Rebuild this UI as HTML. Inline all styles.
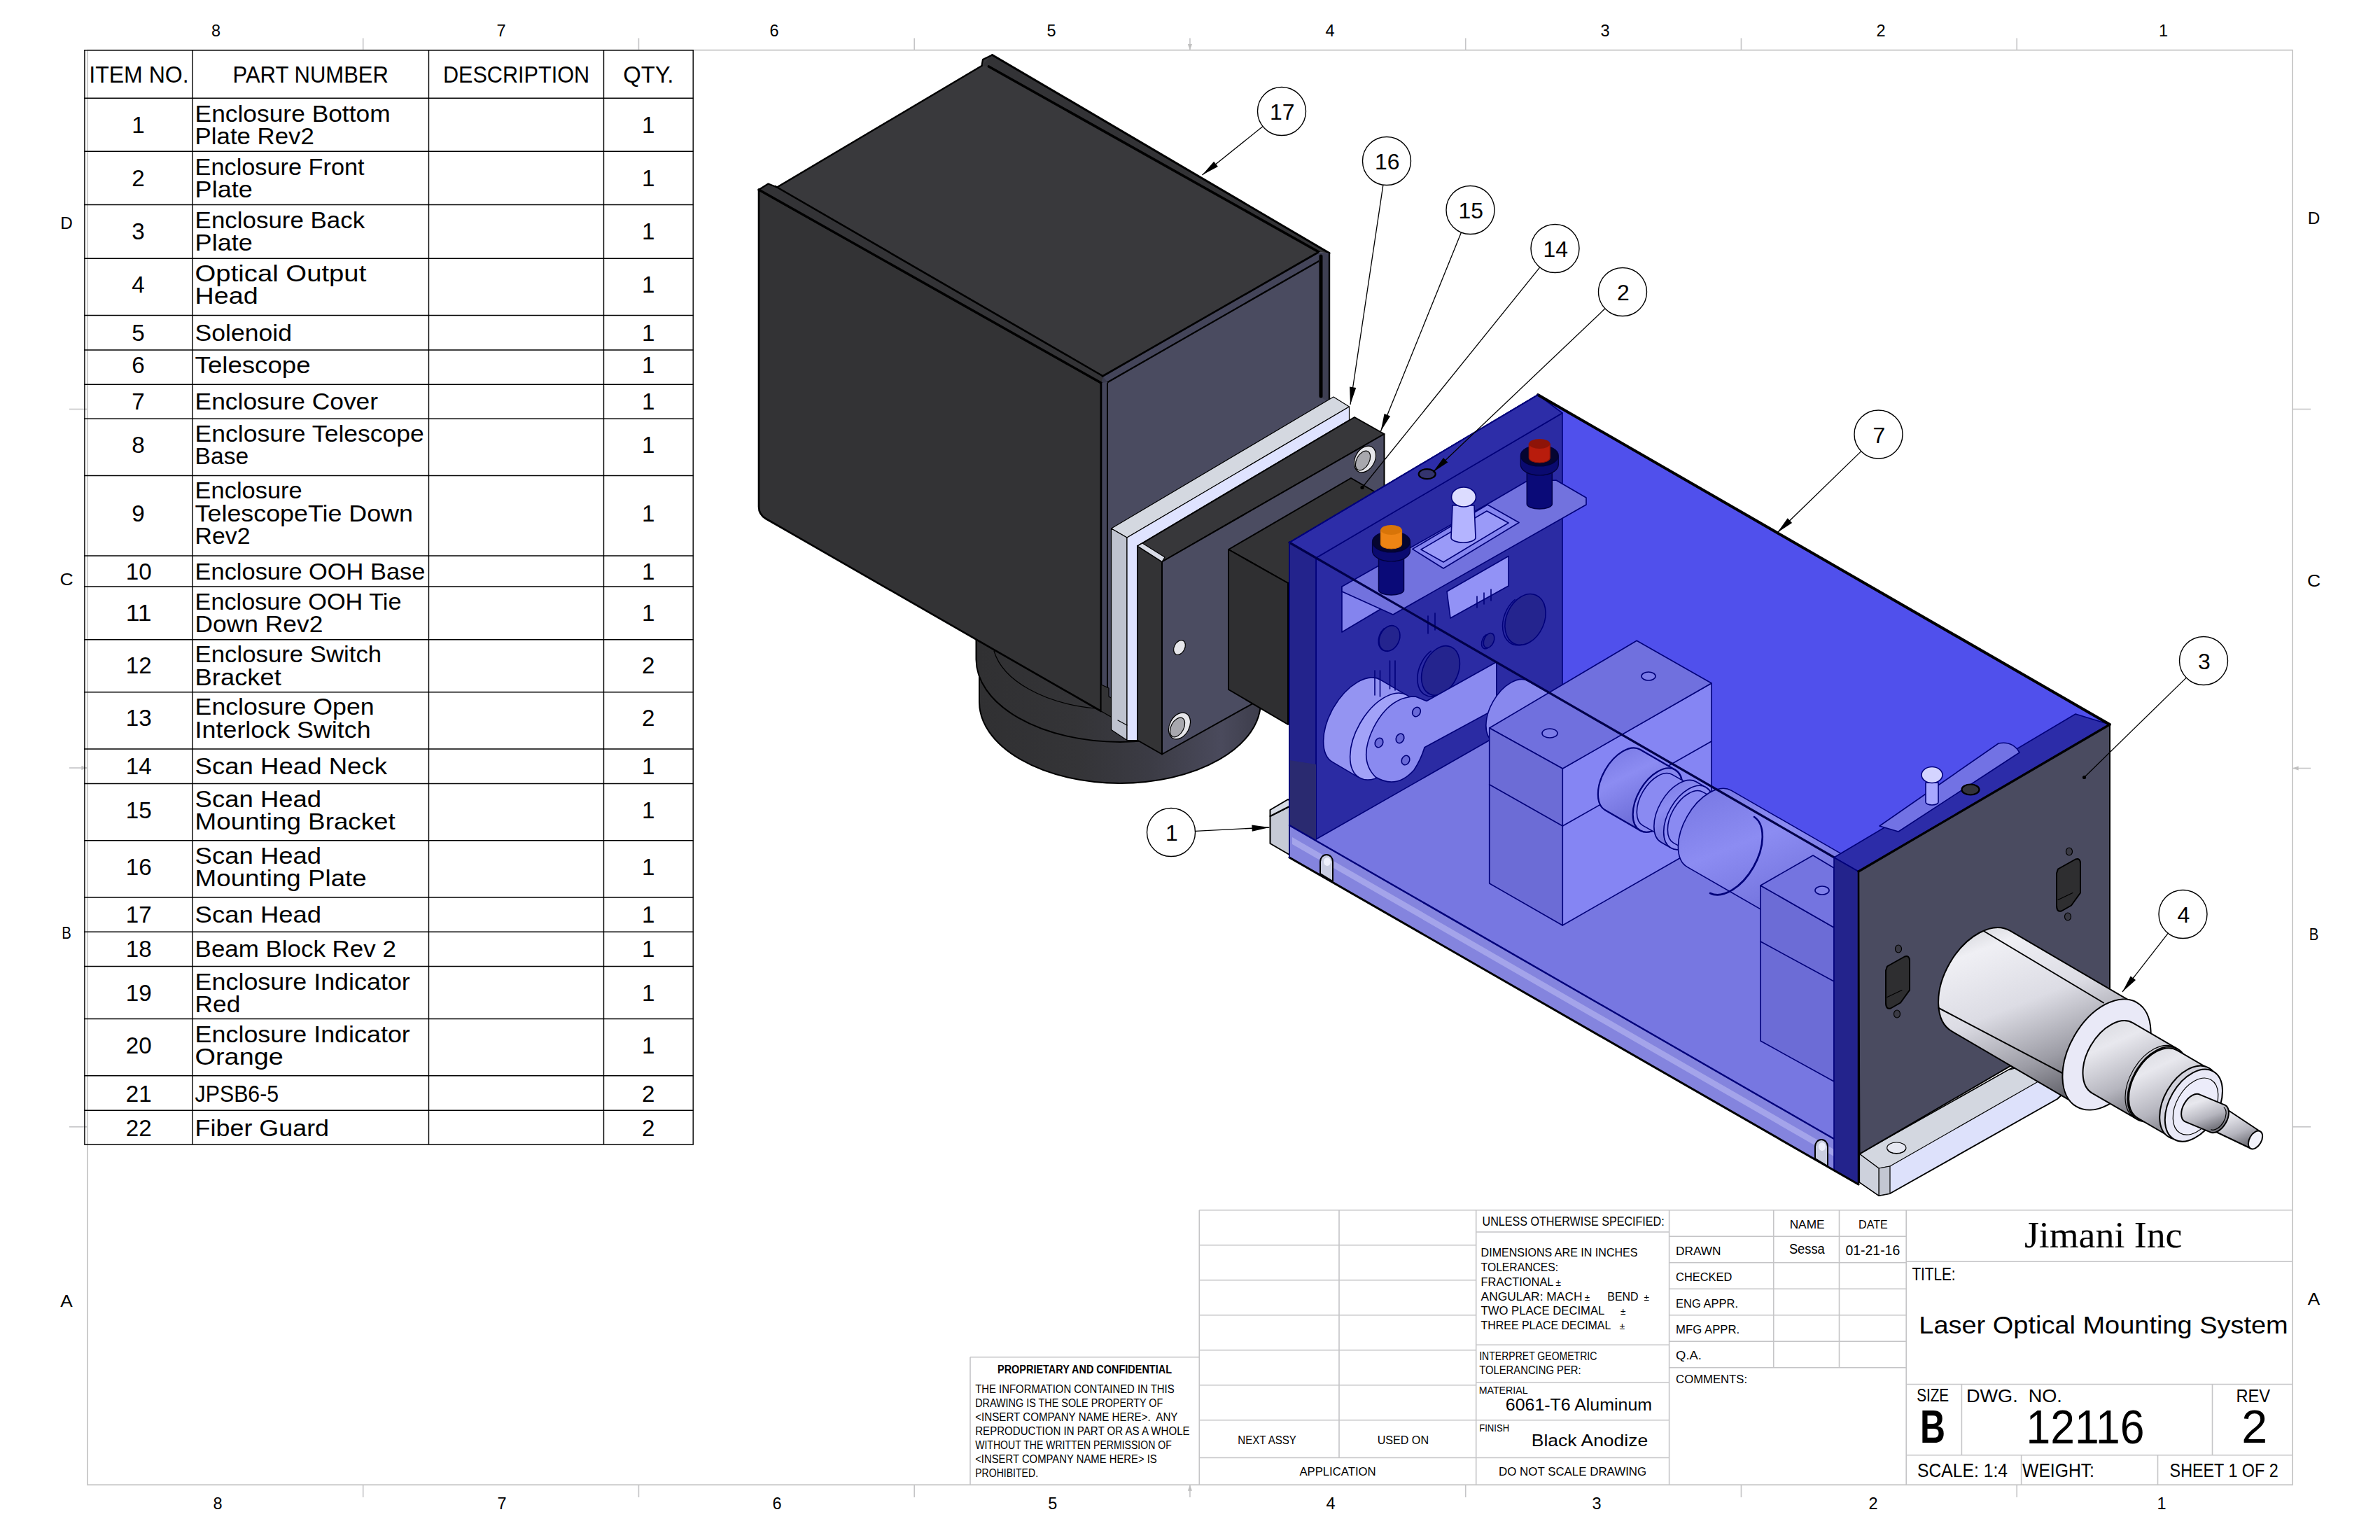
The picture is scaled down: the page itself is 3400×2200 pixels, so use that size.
<!DOCTYPE html>
<html lang="en"><head><meta charset="utf-8"><title>Laser Optical Mounting System - 12116</title>
<style>
html,body{margin:0;padding:0;background:#fff;}
body{width:3400px;height:2200px;overflow:hidden;position:relative;}
svg{position:absolute;left:0;top:0;display:block;}
text{font-family:"Liberation Sans",sans-serif;fill:#000;white-space:pre;}
.g{stroke:#c5c5c7;stroke-width:1.6;fill:none;}
.k{stroke:#000;stroke-width:1.4;fill:none;}
.e{stroke:#000;stroke-width:2;stroke-linejoin:round;stroke-linecap:round;}
.e1{stroke:#000;stroke-width:1.2;stroke-linejoin:round;stroke-linecap:round;}
.b{stroke:#00007a;stroke-width:1.6;stroke-linejoin:round;stroke-linecap:round;}
.ld{stroke:#000;stroke-width:1.3;fill:none;}
</style></head>
<body>
<svg width="3400" height="2200" viewBox="0 0 3400 2200">
<g id="frame">
<rect class="g" x="125.0" y="71.6" width="3150.0" height="2049.6" style="stroke-width:1.7;stroke:#c4c4c4"/>
<line class="g" x1="518.70" y1="54.50" x2="518.70" y2="71.60"/>
<line class="g" x1="518.70" y1="2121.20" x2="518.70" y2="2139.00"/>
<line class="g" x1="912.45" y1="54.50" x2="912.45" y2="71.60"/>
<line class="g" x1="912.45" y1="2121.20" x2="912.45" y2="2139.00"/>
<line class="g" x1="1306.20" y1="54.50" x2="1306.20" y2="71.60"/>
<line class="g" x1="1306.20" y1="2121.20" x2="1306.20" y2="2139.00"/>
<line class="g" x1="1699.95" y1="54.50" x2="1699.95" y2="71.60"/>
<line class="g" x1="1699.95" y1="2121.20" x2="1699.95" y2="2139.00"/>
<line class="g" x1="2093.70" y1="54.50" x2="2093.70" y2="71.60"/>
<line class="g" x1="2093.70" y1="2121.20" x2="2093.70" y2="2139.00"/>
<line class="g" x1="2487.45" y1="54.50" x2="2487.45" y2="71.60"/>
<line class="g" x1="2487.45" y1="2121.20" x2="2487.45" y2="2139.00"/>
<line class="g" x1="2881.20" y1="54.50" x2="2881.20" y2="71.60"/>
<line class="g" x1="2881.20" y1="2121.20" x2="2881.20" y2="2139.00"/>
<line class="g" x1="99.00" y1="584.50" x2="125.00" y2="584.50"/>
<line class="g" x1="3275.00" y1="584.50" x2="3301.00" y2="584.50"/>
<line class="g" x1="99.00" y1="1609.80" x2="125.00" y2="1609.80"/>
<line class="g" x1="3275.00" y1="1609.80" x2="3301.00" y2="1609.80"/>
<line class="g" x1="99.00" y1="1097.00" x2="125.00" y2="1097.00"/>
<line class="g" x1="3275.00" y1="1097.50" x2="3301.00" y2="1097.50"/>
<path d="M125 1097 l-8.6 -3.1 v6.2z M3275 1097.5 l8.6 -3.1 v6.2z M1699.9 71.6 l-3.1 -8.6 h6.2z M1699.9 2121.2 l-3.1 8.6 h6.2z" fill="#c0c0c0"/>
<text x="308.50" y="51.80" font-size="23.60" text-anchor="middle" textLength="13.07" lengthAdjust="spacingAndGlyphs">8</text>
<text x="716.00" y="51.80" font-size="23.60" text-anchor="middle" textLength="13.07" lengthAdjust="spacingAndGlyphs">7</text>
<text x="1106.00" y="51.80" font-size="23.60" text-anchor="middle" textLength="13.07" lengthAdjust="spacingAndGlyphs">6</text>
<text x="1502.00" y="51.80" font-size="23.60" text-anchor="middle" textLength="13.07" lengthAdjust="spacingAndGlyphs">5</text>
<text x="1900.00" y="51.80" font-size="23.60" text-anchor="middle" textLength="13.07" lengthAdjust="spacingAndGlyphs">4</text>
<text x="2293.00" y="51.80" font-size="23.60" text-anchor="middle" textLength="13.07" lengthAdjust="spacingAndGlyphs">3</text>
<text x="2687.00" y="51.80" font-size="23.60" text-anchor="middle" textLength="13.07" lengthAdjust="spacingAndGlyphs">2</text>
<text x="3090.50" y="51.80" font-size="23.60" text-anchor="middle" textLength="13.07" lengthAdjust="spacingAndGlyphs">1</text>
<text x="311.00" y="2155.50" font-size="23.60" text-anchor="middle" textLength="13.07" lengthAdjust="spacingAndGlyphs">8</text>
<text x="717.00" y="2155.50" font-size="23.60" text-anchor="middle" textLength="13.07" lengthAdjust="spacingAndGlyphs">7</text>
<text x="1110.00" y="2155.50" font-size="23.60" text-anchor="middle" textLength="13.07" lengthAdjust="spacingAndGlyphs">6</text>
<text x="1503.70" y="2155.50" font-size="23.60" text-anchor="middle" textLength="13.07" lengthAdjust="spacingAndGlyphs">5</text>
<text x="1901.00" y="2155.50" font-size="23.60" text-anchor="middle" textLength="13.07" lengthAdjust="spacingAndGlyphs">4</text>
<text x="2281.00" y="2155.50" font-size="23.60" text-anchor="middle" textLength="13.07" lengthAdjust="spacingAndGlyphs">3</text>
<text x="2676.00" y="2155.50" font-size="23.60" text-anchor="middle" textLength="13.07" lengthAdjust="spacingAndGlyphs">2</text>
<text x="3088.00" y="2155.50" font-size="23.60" text-anchor="middle" textLength="13.07" lengthAdjust="spacingAndGlyphs">1</text>
<text x="95.00" y="327.00" font-size="23.60" text-anchor="middle" textLength="17.56" lengthAdjust="spacingAndGlyphs">D</text>
<text x="3305.50" y="319.50" font-size="23.60" text-anchor="middle" textLength="17.56" lengthAdjust="spacingAndGlyphs">D</text>
<text x="95.00" y="836.00" font-size="23.60" text-anchor="middle" textLength="19.19" lengthAdjust="spacingAndGlyphs">C</text>
<text x="3305.50" y="837.50" font-size="23.60" text-anchor="middle" textLength="19.19" lengthAdjust="spacingAndGlyphs">C</text>
<text x="95.00" y="1341.00" font-size="23.60" text-anchor="middle" textLength="13.55" lengthAdjust="spacingAndGlyphs">B</text>
<text x="3305.50" y="1342.50" font-size="23.60" text-anchor="middle" textLength="13.55" lengthAdjust="spacingAndGlyphs">B</text>
<text x="95.00" y="1866.50" font-size="23.60" text-anchor="middle" textLength="17.46" lengthAdjust="spacingAndGlyphs">A</text>
<text x="3305.50" y="1864.30" font-size="23.60" text-anchor="middle" textLength="17.46" lengthAdjust="spacingAndGlyphs">A</text>
</g>
<g id="bom">
<line class="k" x1="120.20" y1="71.75" x2="990.90" y2="71.75"/>
<line class="k" x1="120.20" y1="140.25" x2="990.90" y2="140.25"/>
<line class="k" x1="120.20" y1="216.25" x2="990.90" y2="216.25"/>
<line class="k" x1="120.20" y1="292.50" x2="990.90" y2="292.50"/>
<line class="k" x1="120.20" y1="369.25" x2="990.90" y2="369.25"/>
<line class="k" x1="120.20" y1="450.50" x2="990.90" y2="450.50"/>
<line class="k" x1="120.20" y1="500.00" x2="990.90" y2="500.00"/>
<line class="k" x1="120.20" y1="549.25" x2="990.90" y2="549.25"/>
<line class="k" x1="120.20" y1="598.25" x2="990.90" y2="598.25"/>
<line class="k" x1="120.20" y1="679.50" x2="990.90" y2="679.50"/>
<line class="k" x1="120.20" y1="794.00" x2="990.90" y2="794.00"/>
<line class="k" x1="120.20" y1="838.00" x2="990.90" y2="838.00"/>
<line class="k" x1="120.20" y1="913.75" x2="990.90" y2="913.75"/>
<line class="k" x1="120.20" y1="988.75" x2="990.90" y2="988.75"/>
<line class="k" x1="120.20" y1="1070.00" x2="990.90" y2="1070.00"/>
<line class="k" x1="120.20" y1="1119.50" x2="990.90" y2="1119.50"/>
<line class="k" x1="120.20" y1="1200.75" x2="990.90" y2="1200.75"/>
<line class="k" x1="120.20" y1="1282.00" x2="990.90" y2="1282.00"/>
<line class="k" x1="120.20" y1="1331.25" x2="990.90" y2="1331.25"/>
<line class="k" x1="120.20" y1="1380.50" x2="990.90" y2="1380.50"/>
<line class="k" x1="120.20" y1="1455.50" x2="990.90" y2="1455.50"/>
<line class="k" x1="120.20" y1="1536.75" x2="990.90" y2="1536.75"/>
<line class="k" x1="120.20" y1="1586.25" x2="990.90" y2="1586.25"/>
<line class="k" x1="120.20" y1="1635.00" x2="990.90" y2="1635.00"/>
<line class="k" x1="120.90" y1="71.75" x2="120.90" y2="1635.00"/>
<line class="k" x1="275.00" y1="71.75" x2="275.00" y2="1635.00"/>
<line class="k" x1="612.50" y1="71.75" x2="612.50" y2="1635.00"/>
<line class="k" x1="862.50" y1="71.75" x2="862.50" y2="1635.00"/>
<line class="k" x1="990.20" y1="71.75" x2="990.20" y2="1635.00"/>
<text x="198.45" y="118.30" font-size="33.33" text-anchor="middle" textLength="142.32" lengthAdjust="spacingAndGlyphs">ITEM NO.</text>
<text x="443.75" y="118.30" font-size="33.33" text-anchor="middle" textLength="222.41" lengthAdjust="spacingAndGlyphs">PART NUMBER</text>
<text x="737.50" y="118.30" font-size="33.33" text-anchor="middle" textLength="209.21" lengthAdjust="spacingAndGlyphs">DESCRIPTION</text>
<text x="926.35" y="118.30" font-size="33.33" text-anchor="middle" textLength="72.19" lengthAdjust="spacingAndGlyphs">QTY.</text>
<text x="278.60" y="173.75" font-size="33.33" textLength="279.04" lengthAdjust="spacingAndGlyphs">Enclosure Bottom</text>
<text x="278.60" y="205.90" font-size="33.33" textLength="170.18" lengthAdjust="spacingAndGlyphs">Plate Rev2</text>
<text x="197.60" y="189.82" font-size="33.33" text-anchor="middle" textLength="18.46" lengthAdjust="spacingAndGlyphs">1</text>
<text x="926.20" y="189.82" font-size="33.33" text-anchor="middle" textLength="18.46" lengthAdjust="spacingAndGlyphs">1</text>
<text x="278.60" y="249.85" font-size="33.33" textLength="242.04" lengthAdjust="spacingAndGlyphs">Enclosure Front</text>
<text x="278.60" y="282.00" font-size="33.33" textLength="82.13" lengthAdjust="spacingAndGlyphs">Plate</text>
<text x="197.60" y="265.93" font-size="33.33" text-anchor="middle" textLength="18.46" lengthAdjust="spacingAndGlyphs">2</text>
<text x="926.20" y="265.93" font-size="33.33" text-anchor="middle" textLength="18.46" lengthAdjust="spacingAndGlyphs">1</text>
<text x="278.60" y="326.10" font-size="33.33" textLength="242.58" lengthAdjust="spacingAndGlyphs">Enclosure Back</text>
<text x="278.60" y="358.25" font-size="33.33" textLength="82.13" lengthAdjust="spacingAndGlyphs">Plate</text>
<text x="197.60" y="342.18" font-size="33.33" text-anchor="middle" textLength="18.46" lengthAdjust="spacingAndGlyphs">3</text>
<text x="926.20" y="342.18" font-size="33.33" text-anchor="middle" textLength="18.46" lengthAdjust="spacingAndGlyphs">1</text>
<text x="278.60" y="402.15" font-size="33.33" textLength="244.71" lengthAdjust="spacingAndGlyphs">Optical Output</text>
<text x="278.60" y="434.30" font-size="33.33" textLength="90.02" lengthAdjust="spacingAndGlyphs">Head</text>
<text x="197.60" y="418.22" font-size="33.33" text-anchor="middle" textLength="18.46" lengthAdjust="spacingAndGlyphs">4</text>
<text x="926.20" y="418.22" font-size="33.33" text-anchor="middle" textLength="18.46" lengthAdjust="spacingAndGlyphs">1</text>
<text x="278.60" y="487.00" font-size="33.33" textLength="138.42" lengthAdjust="spacingAndGlyphs">Solenoid</text>
<text x="197.60" y="487.00" font-size="33.33" text-anchor="middle" textLength="18.46" lengthAdjust="spacingAndGlyphs">5</text>
<text x="926.20" y="487.00" font-size="33.33" text-anchor="middle" textLength="18.46" lengthAdjust="spacingAndGlyphs">1</text>
<text x="278.60" y="532.50" font-size="33.33" textLength="164.92" lengthAdjust="spacingAndGlyphs">Telescope</text>
<text x="197.60" y="532.50" font-size="33.33" text-anchor="middle" textLength="18.46" lengthAdjust="spacingAndGlyphs">6</text>
<text x="926.20" y="532.50" font-size="33.33" text-anchor="middle" textLength="18.46" lengthAdjust="spacingAndGlyphs">1</text>
<text x="278.60" y="585.00" font-size="33.33" textLength="261.47" lengthAdjust="spacingAndGlyphs">Enclosure Cover</text>
<text x="197.60" y="585.00" font-size="33.33" text-anchor="middle" textLength="18.46" lengthAdjust="spacingAndGlyphs">7</text>
<text x="926.20" y="585.00" font-size="33.33" text-anchor="middle" textLength="18.46" lengthAdjust="spacingAndGlyphs">1</text>
<text x="278.60" y="630.85" font-size="33.33" textLength="327.30" lengthAdjust="spacingAndGlyphs">Enclosure Telescope</text>
<text x="278.60" y="663.00" font-size="33.33" textLength="76.49" lengthAdjust="spacingAndGlyphs">Base</text>
<text x="197.60" y="646.93" font-size="33.33" text-anchor="middle" textLength="18.46" lengthAdjust="spacingAndGlyphs">8</text>
<text x="926.20" y="646.93" font-size="33.33" text-anchor="middle" textLength="18.46" lengthAdjust="spacingAndGlyphs">1</text>
<text x="278.60" y="712.40" font-size="33.33" textLength="153.15" lengthAdjust="spacingAndGlyphs">Enclosure</text>
<text x="278.60" y="744.55" font-size="33.33" textLength="311.34" lengthAdjust="spacingAndGlyphs">TelescopeTie Down</text>
<text x="278.60" y="776.70" font-size="33.33" textLength="78.83" lengthAdjust="spacingAndGlyphs">Rev2</text>
<text x="197.60" y="744.55" font-size="33.33" text-anchor="middle" textLength="18.46" lengthAdjust="spacingAndGlyphs">9</text>
<text x="926.20" y="744.55" font-size="33.33" text-anchor="middle" textLength="18.46" lengthAdjust="spacingAndGlyphs">1</text>
<text x="278.60" y="827.50" font-size="33.33" textLength="328.80" lengthAdjust="spacingAndGlyphs">Enclosure OOH Base</text>
<text x="198.20" y="827.50" font-size="33.33" text-anchor="middle" textLength="36.93" lengthAdjust="spacingAndGlyphs">10</text>
<text x="926.20" y="827.50" font-size="33.33" text-anchor="middle" textLength="18.46" lengthAdjust="spacingAndGlyphs">1</text>
<text x="278.60" y="871.20" font-size="33.33" textLength="294.84" lengthAdjust="spacingAndGlyphs">Enclosure OOH Tie</text>
<text x="278.60" y="903.35" font-size="33.33" textLength="182.72" lengthAdjust="spacingAndGlyphs">Down Rev2</text>
<text x="198.20" y="887.28" font-size="33.33" text-anchor="middle" textLength="36.93" lengthAdjust="spacingAndGlyphs">11</text>
<text x="926.20" y="887.28" font-size="33.33" text-anchor="middle" textLength="18.46" lengthAdjust="spacingAndGlyphs">1</text>
<text x="278.60" y="946.35" font-size="33.33" textLength="266.54" lengthAdjust="spacingAndGlyphs">Enclosure Switch</text>
<text x="278.60" y="978.50" font-size="33.33" textLength="123.19" lengthAdjust="spacingAndGlyphs">Bracket</text>
<text x="198.20" y="962.43" font-size="33.33" text-anchor="middle" textLength="36.93" lengthAdjust="spacingAndGlyphs">12</text>
<text x="926.20" y="962.43" font-size="33.33" text-anchor="middle" textLength="18.46" lengthAdjust="spacingAndGlyphs">2</text>
<text x="278.60" y="1021.35" font-size="33.33" textLength="256.07" lengthAdjust="spacingAndGlyphs">Enclosure Open</text>
<text x="278.60" y="1053.50" font-size="33.33" textLength="251.04" lengthAdjust="spacingAndGlyphs">Interlock Switch</text>
<text x="198.20" y="1037.42" font-size="33.33" text-anchor="middle" textLength="36.93" lengthAdjust="spacingAndGlyphs">13</text>
<text x="926.20" y="1037.42" font-size="33.33" text-anchor="middle" textLength="18.46" lengthAdjust="spacingAndGlyphs">2</text>
<text x="278.60" y="1106.25" font-size="33.33" textLength="274.37" lengthAdjust="spacingAndGlyphs">Scan Head Neck</text>
<text x="198.20" y="1106.25" font-size="33.33" text-anchor="middle" textLength="36.93" lengthAdjust="spacingAndGlyphs">14</text>
<text x="926.20" y="1106.25" font-size="33.33" text-anchor="middle" textLength="18.46" lengthAdjust="spacingAndGlyphs">1</text>
<text x="278.60" y="1152.50" font-size="33.33" textLength="180.52" lengthAdjust="spacingAndGlyphs">Scan Head</text>
<text x="278.60" y="1184.65" font-size="33.33" textLength="286.20" lengthAdjust="spacingAndGlyphs">Mounting Bracket</text>
<text x="198.20" y="1168.58" font-size="33.33" text-anchor="middle" textLength="36.93" lengthAdjust="spacingAndGlyphs">15</text>
<text x="926.20" y="1168.58" font-size="33.33" text-anchor="middle" textLength="18.46" lengthAdjust="spacingAndGlyphs">1</text>
<text x="278.60" y="1233.75" font-size="33.33" textLength="180.52" lengthAdjust="spacingAndGlyphs">Scan Head</text>
<text x="278.60" y="1265.90" font-size="33.33" textLength="245.14" lengthAdjust="spacingAndGlyphs">Mounting Plate</text>
<text x="198.20" y="1249.83" font-size="33.33" text-anchor="middle" textLength="36.93" lengthAdjust="spacingAndGlyphs">16</text>
<text x="926.20" y="1249.83" font-size="33.33" text-anchor="middle" textLength="18.46" lengthAdjust="spacingAndGlyphs">1</text>
<text x="278.60" y="1318.25" font-size="33.33" textLength="180.52" lengthAdjust="spacingAndGlyphs">Scan Head</text>
<text x="198.20" y="1318.25" font-size="33.33" text-anchor="middle" textLength="36.93" lengthAdjust="spacingAndGlyphs">17</text>
<text x="926.20" y="1318.25" font-size="33.33" text-anchor="middle" textLength="18.46" lengthAdjust="spacingAndGlyphs">1</text>
<text x="278.60" y="1367.00" font-size="33.33" textLength="287.27" lengthAdjust="spacingAndGlyphs">Beam Block Rev 2</text>
<text x="198.20" y="1367.00" font-size="33.33" text-anchor="middle" textLength="36.93" lengthAdjust="spacingAndGlyphs">18</text>
<text x="926.20" y="1367.00" font-size="33.33" text-anchor="middle" textLength="18.46" lengthAdjust="spacingAndGlyphs">1</text>
<text x="278.60" y="1413.70" font-size="33.33" textLength="307.24" lengthAdjust="spacingAndGlyphs">Enclosure Indicator</text>
<text x="278.60" y="1445.85" font-size="33.33" textLength="64.73" lengthAdjust="spacingAndGlyphs">Red</text>
<text x="198.20" y="1429.78" font-size="33.33" text-anchor="middle" textLength="36.93" lengthAdjust="spacingAndGlyphs">19</text>
<text x="926.20" y="1429.78" font-size="33.33" text-anchor="middle" textLength="18.46" lengthAdjust="spacingAndGlyphs">1</text>
<text x="278.60" y="1488.70" font-size="33.33" textLength="307.24" lengthAdjust="spacingAndGlyphs">Enclosure Indicator</text>
<text x="278.60" y="1520.85" font-size="33.33" textLength="126.19" lengthAdjust="spacingAndGlyphs">Orange</text>
<text x="198.20" y="1504.78" font-size="33.33" text-anchor="middle" textLength="36.93" lengthAdjust="spacingAndGlyphs">20</text>
<text x="926.20" y="1504.78" font-size="33.33" text-anchor="middle" textLength="18.46" lengthAdjust="spacingAndGlyphs">1</text>
<text x="278.60" y="1573.75" font-size="33.33" textLength="119.52" lengthAdjust="spacingAndGlyphs">JPSB6-5</text>
<text x="198.20" y="1573.75" font-size="33.33" text-anchor="middle" textLength="36.93" lengthAdjust="spacingAndGlyphs">21</text>
<text x="926.20" y="1573.75" font-size="33.33" text-anchor="middle" textLength="18.46" lengthAdjust="spacingAndGlyphs">2</text>
<text x="278.60" y="1623.25" font-size="33.33" textLength="191.45" lengthAdjust="spacingAndGlyphs">Fiber Guard</text>
<text x="198.20" y="1623.25" font-size="33.33" text-anchor="middle" textLength="36.93" lengthAdjust="spacingAndGlyphs">22</text>
<text x="926.20" y="1623.25" font-size="33.33" text-anchor="middle" textLength="18.46" lengthAdjust="spacingAndGlyphs">2</text>
</g>
<g id="titleblock">
<line class="g" x1="1386.00" y1="1938.80" x2="1713.30" y2="1938.80"/>
<line class="g" x1="1386.00" y1="1938.80" x2="1386.00" y2="2121.20"/>
<line class="g" x1="1713.30" y1="1728.80" x2="3275.00" y2="1728.80"/>
<line class="g" x1="1713.30" y1="1728.80" x2="1713.30" y2="2121.20"/>
<line class="g" x1="2108.70" y1="1728.80" x2="2108.70" y2="2121.20"/>
<line class="g" x1="2384.60" y1="1728.80" x2="2384.60" y2="2121.20"/>
<line class="g" x1="2723.20" y1="1728.80" x2="2723.20" y2="2121.20"/>
<line class="g" x1="1913.00" y1="1728.80" x2="1913.00" y2="2082.50"/>
<line class="g" x1="1713.30" y1="1778.75" x2="2108.70" y2="1778.75"/>
<line class="g" x1="1713.30" y1="1828.75" x2="2108.70" y2="1828.75"/>
<line class="g" x1="1713.30" y1="1878.75" x2="2108.70" y2="1878.75"/>
<line class="g" x1="1713.30" y1="1928.75" x2="2108.70" y2="1928.75"/>
<line class="g" x1="1713.30" y1="1978.75" x2="2108.70" y2="1978.75"/>
<line class="g" x1="1713.30" y1="2028.75" x2="2108.70" y2="2028.75"/>
<line class="g" x1="1713.30" y1="2082.50" x2="2108.70" y2="2082.50"/>
<line class="g" x1="2108.70" y1="1760.00" x2="2384.60" y2="1760.00"/>
<line class="g" x1="2108.70" y1="1921.25" x2="2384.60" y2="1921.25"/>
<line class="g" x1="2108.70" y1="1975.00" x2="2384.60" y2="1975.00"/>
<line class="g" x1="2108.70" y1="2028.75" x2="2384.60" y2="2028.75"/>
<line class="g" x1="2108.70" y1="2082.50" x2="2384.60" y2="2082.50"/>
<line class="g" x1="2384.60" y1="1766.25" x2="2723.20" y2="1766.25"/>
<line class="g" x1="2384.60" y1="1803.75" x2="2723.20" y2="1803.75"/>
<line class="g" x1="2384.60" y1="1841.25" x2="2723.20" y2="1841.25"/>
<line class="g" x1="2384.60" y1="1878.75" x2="2723.20" y2="1878.75"/>
<line class="g" x1="2384.60" y1="1916.25" x2="2723.20" y2="1916.25"/>
<line class="g" x1="2384.60" y1="1953.75" x2="2723.20" y2="1953.75"/>
<line class="g" x1="2533.70" y1="1728.80" x2="2533.70" y2="1953.75"/>
<line class="g" x1="2627.50" y1="1728.80" x2="2627.50" y2="1953.75"/>
<line class="g" x1="2723.20" y1="1802.20" x2="3275.00" y2="1802.20"/>
<line class="g" x1="2723.20" y1="1977.50" x2="3275.00" y2="1977.50"/>
<line class="g" x1="2723.20" y1="2078.80" x2="3275.00" y2="2078.80"/>
<line class="g" x1="2802.40" y1="1977.50" x2="2802.40" y2="2078.80"/>
<line class="g" x1="3160.50" y1="1977.50" x2="3160.50" y2="2078.80"/>
<line class="g" x1="2887.60" y1="2078.80" x2="2887.60" y2="2121.20"/>
<line class="g" x1="3082.50" y1="2078.80" x2="3082.50" y2="2121.20"/>
<text x="1549.50" y="1961.80" font-size="15.60" text-anchor="middle" font-weight="bold" textLength="249" lengthAdjust="spacingAndGlyphs">PROPRIETARY AND CONFIDENTIAL</text>
<text x="1393.21" y="1990.00" font-size="15.60" textLength="284.43" lengthAdjust="spacingAndGlyphs">THE INFORMATION CONTAINED IN THIS</text>
<text x="1393.21" y="2009.92" font-size="15.60" textLength="268.05" lengthAdjust="spacingAndGlyphs">DRAWING IS THE SOLE PROPERTY OF</text>
<text x="1393.21" y="2029.84" font-size="15.60" textLength="289.24" lengthAdjust="spacingAndGlyphs">&lt;INSERT COMPANY NAME HERE&gt;.  ANY</text>
<text x="1393.21" y="2049.76" font-size="15.60" textLength="306.40" lengthAdjust="spacingAndGlyphs">REPRODUCTION IN PART OR AS A WHOLE</text>
<text x="1393.21" y="2069.68" font-size="15.60" textLength="280.55" lengthAdjust="spacingAndGlyphs">WITHOUT THE WRITTEN PERMISSION OF</text>
<text x="1393.21" y="2089.60" font-size="15.60" textLength="259.57" lengthAdjust="spacingAndGlyphs">&lt;INSERT COMPANY NAME HERE&gt; IS</text>
<text x="1393.21" y="2109.52" font-size="15.60" textLength="89.86" lengthAdjust="spacingAndGlyphs">PROHIBITED.</text>
<text x="1810.15" y="2062.50" font-size="17.00" text-anchor="middle" textLength="83.57" lengthAdjust="spacingAndGlyphs">NEXT ASSY</text>
<text x="2004.35" y="2062.50" font-size="17.00" text-anchor="middle" textLength="73.42" lengthAdjust="spacingAndGlyphs">USED ON</text>
<text x="1911.00" y="2108.30" font-size="17.00" text-anchor="middle" textLength="109.24" lengthAdjust="spacingAndGlyphs">APPLICATION</text>
<text x="2117.52" y="1751.30" font-size="18.30" textLength="260.17" lengthAdjust="spacingAndGlyphs">UNLESS OTHERWISE SPECIFIED:</text>
<text x="2115.61" y="1795.00" font-size="17.00" textLength="223.92" lengthAdjust="spacingAndGlyphs">DIMENSIONS ARE IN INCHES</text>
<text x="2115.61" y="1815.85" font-size="17.00" textLength="110.57" lengthAdjust="spacingAndGlyphs">TOLERANCES:</text>
<text x="2115.61" y="1836.70" font-size="17.00" textLength="103.84" lengthAdjust="spacingAndGlyphs">FRACTIONAL</text>
<text x="2115.61" y="1857.55" font-size="17.00" textLength="144.93" lengthAdjust="spacingAndGlyphs">ANGULAR: MACH</text>
<text x="2115.61" y="1878.40" font-size="17.00" textLength="176.66" lengthAdjust="spacingAndGlyphs">TWO PLACE DECIMAL</text>
<text x="2115.61" y="1899.25" font-size="17.00" textLength="185.72" lengthAdjust="spacingAndGlyphs">THREE PLACE DECIMAL</text>
<text x="2222.50" y="1836.75" font-size="13.50">±</text>
<text x="2263.70" y="1857.50" font-size="13.50">±</text>
<text x="2348.50" y="1857.50" font-size="13.50">±</text>
<text x="2315.00" y="1878.30" font-size="13.50">±</text>
<text x="2313.70" y="1899.30" font-size="13.50">±</text>
<text x="2296.31" y="1857.50" font-size="17.00" textLength="44.10" lengthAdjust="spacingAndGlyphs">BEND</text>
<text x="2113.21" y="1943.00" font-size="15.60" textLength="168.12" lengthAdjust="spacingAndGlyphs">INTERPRET GEOMETRIC</text>
<text x="2113.21" y="1963.30" font-size="15.60" textLength="145.39" lengthAdjust="spacingAndGlyphs">TOLERANCING PER:</text>
<text x="2112.75" y="1991.30" font-size="15.00" textLength="69.84" lengthAdjust="spacingAndGlyphs">MATERIAL</text>
<text x="2150.81" y="2015.00" font-size="24.20" textLength="209.26" lengthAdjust="spacingAndGlyphs">6061-T6 Aluminum</text>
<text x="2113.25" y="2045.00" font-size="15.00" textLength="42.87" lengthAdjust="spacingAndGlyphs">FINISH</text>
<text x="2187.80" y="2065.80" font-size="24.30" textLength="166.41" lengthAdjust="spacingAndGlyphs">Black Anodize</text>
<text x="2246.65" y="2108.30" font-size="17.00" text-anchor="middle" textLength="211.09" lengthAdjust="spacingAndGlyphs">DO NOT SCALE DRAWING</text>
<text x="2394.11" y="1792.50" font-size="17.00" textLength="64.45" lengthAdjust="spacingAndGlyphs">DRAWN</text>
<text x="2394.11" y="1830.30" font-size="17.00" textLength="80.17" lengthAdjust="spacingAndGlyphs">CHECKED</text>
<text x="2394.11" y="1867.60" font-size="17.00" textLength="88.96" lengthAdjust="spacingAndGlyphs">ENG APPR.</text>
<text x="2394.11" y="1905.00" font-size="17.00" textLength="91.14" lengthAdjust="spacingAndGlyphs">MFG APPR.</text>
<text x="2394.11" y="1942.20" font-size="17.00" textLength="36.80" lengthAdjust="spacingAndGlyphs">Q.A.</text>
<text x="2394.11" y="1975.50" font-size="17.00" textLength="101.95" lengthAdjust="spacingAndGlyphs">COMMENTS:</text>
<text x="2581.60" y="1754.50" font-size="17.00" text-anchor="middle" textLength="49.90" lengthAdjust="spacingAndGlyphs">NAME</text>
<text x="2675.85" y="1754.50" font-size="17.00" text-anchor="middle" textLength="41.58" lengthAdjust="spacingAndGlyphs">DATE</text>
<text x="2581.30" y="1791.30" font-size="19.50" text-anchor="middle" textLength="50.84" lengthAdjust="spacingAndGlyphs">Sessa</text>
<text x="2675.35" y="1792.50" font-size="19.50" text-anchor="middle" textLength="77.77" lengthAdjust="spacingAndGlyphs">01-21-16</text>
<text x="3004.70" y="1782.00" font-size="53.80" text-anchor="middle" style="font-family:'Liberation Serif',serif">Jimani Inc</text>
<text x="2731.45" y="1828.80" font-size="26.40" textLength="62.12" lengthAdjust="spacingAndGlyphs">TITLE:</text>
<text x="2741.32" y="1904.50" font-size="35.40" textLength="527.39" lengthAdjust="spacingAndGlyphs">Laser Optical Mounting System</text>
<text x="2738.15" y="2002.00" font-size="26.40" textLength="45.94" lengthAdjust="spacingAndGlyphs">SIZE</text>
<text x="2808.95" y="2002.50" font-size="26.40" textLength="136.94" lengthAdjust="spacingAndGlyphs">DWG.  NO.</text>
<text x="3194.45" y="2002.50" font-size="26.40" textLength="48.71" lengthAdjust="spacingAndGlyphs">REV</text>
<text x="2761.00" y="2061.30" font-size="67.00" text-anchor="middle" font-weight="bold" textLength="36" lengthAdjust="spacingAndGlyphs">B</text>
<text x="2979.00" y="2062.00" font-size="69.30" text-anchor="middle" textLength="169" lengthAdjust="spacingAndGlyphs">12116</text>
<text x="3220.70" y="2060.50" font-size="66.67" text-anchor="middle" textLength="36.94" lengthAdjust="spacingAndGlyphs">2</text>
<text x="2739.10" y="2109.70" font-size="27.20" textLength="128.89" lengthAdjust="spacingAndGlyphs">SCALE: 1:4</text>
<text x="2889.10" y="2109.70" font-size="27.20" textLength="102.84" lengthAdjust="spacingAndGlyphs">WEIGHT:</text>
<text x="3099.60" y="2109.70" font-size="27.20" textLength="155.13" lengthAdjust="spacingAndGlyphs">SHEET 1 OF 2</text>
</g>
<defs>
<linearGradient id="gcyl" x1="0" y1="0" x2="1" y2="0"><stop offset="0" stop-color="#303032"/><stop offset="0.35" stop-color="#343437"/><stop offset="0.6" stop-color="#3b3b44"/><stop offset="0.86" stop-color="#4a4a5c"/><stop offset="1" stop-color="#3d3d4b"/></linearGradient>
<linearGradient id="ghead" x1="0" y1="0" x2="0.45" y2="1"><stop offset="0" stop-color="#c9cad0"/><stop offset="0.18" stop-color="#efeff4"/><stop offset="0.5" stop-color="#dcdce4"/><stop offset="0.8" stop-color="#9d9da6"/><stop offset="1" stop-color="#66666e"/></linearGradient>
<linearGradient id="ghead2" x1="0" y1="0" x2="0.45" y2="1"><stop offset="0" stop-color="#d5d6dc"/><stop offset="0.3" stop-color="#e8e8ee"/><stop offset="0.7" stop-color="#b5b5be"/><stop offset="1" stop-color="#74747c"/></linearGradient>
<linearGradient id="gtel" x1="0" y1="0" x2="0.5" y2="1"><stop offset="0" stop-color="#7676e2"/><stop offset="0.4" stop-color="#8c8cf2"/><stop offset="1" stop-color="#6666d2"/></linearGradient>
</defs>
<g id="model">
<polygon class="e" points="1814.5,1166.0 1842.0,1152.0 1842.0,1221.0 1814.5,1205.0" fill="#c6cad6"/>
<polygon class="e" points="1814.5,1166.0 1814.5,1157.0 1840.0,1142.0 1842.0,1143.0 1842.0,1152.0" fill="#d8dce6"/>
<path class="e" d="M1399 955 V1003 A201 116 0 0 0 1801 1003 V955 Z" fill="url(#gcyl)"/>
<path class="e" d="M1394.5 900 V942 A205.5 118 0 0 0 1805.5 942 V900 Z" fill="url(#gcyl)"/>
<path class="e1" d="M1420 930 A175 100 0 0 0 1565 1012" fill="none"/>
<polygon class="e" points="1573.0,547.0 1899.0,361.5 1899.0,838.0 1573.0,1016.0" fill="#4a4b60" style="stroke:none"/>
<path class="e" d="M1084 271 L1573 547 V1016 L1094 741 Q1084 735 1084 724 Z" fill="#333335" style="stroke-width:2.6"/>
<polygon class="e" points="1084.0,271.0 1097.5,262.5 1110.0,267.5 1402.5,94.0 1404.0,85.0 1417.5,78.5 1899.0,361.5 1884.0,360.0 1576.0,537.5 1573.0,547.0" fill="#39393c" style="stroke:none"/>
<polygon class="e" points="1571.0,540.0 1578.0,536.0 1584.0,546.0 1582.0,552.0 1573.0,550.0" fill="#3a3b4c" style="stroke:none"/>
<polygon class="e" points="1084.0,271.0 1097.5,262.5 1107.5,266.0 1576.0,537.5 1573.0,547.0" fill="#333336" style="stroke:none"/>
<polygon class="e" points="1417.5,78.5 1899.0,361.5 1884.0,360.0 1412.5,95.0 1402.5,94.0" fill="#333336" style="stroke:none"/>
<path class="e" d="M1084 271 L1573 547" fill="none" style="stroke-width:3.4"/>
<path class="e" d="M1107.5 266 L1576 537.5" fill="none" style="stroke-width:2.6"/>
<path class="e" d="M1110 267.5 L1402.5 94" fill="none" style="stroke-width:2.4"/>
<path class="e" d="M1084 271 L1097.5 262.5 L1110 267.5 M1402.5 94 L1404 85 L1417.5 78.5" fill="none" style="stroke-width:2.2"/>
<path class="e" d="M1417.5 78.5 L1899 361.5" fill="none" style="stroke-width:3"/>
<path class="e" d="M1412.5 95 L1884 360" fill="none" style="stroke-width:3.6"/>
<polygon class="e" points="1575.0,537.5 1884.0,360.0 1885.0,372.5 1582.5,546.0" fill="#44455a" style="stroke:none"/>
<path class="e" d="M1575 537.5 L1884 360" fill="none" style="stroke-width:2.6"/>
<path class="e" d="M1582.5 546 L1885 372.5" fill="none" style="stroke-width:2.2"/>
<polygon class="e" points="1573.0,547.0 1582.0,546.0 1582.0,1021.0 1573.0,1016.0" fill="#44455a" style="stroke:none"/>
<path class="e" d="M1573 547 V1016" fill="none" style="stroke-width:2.6"/>
<path class="e" d="M1582 548 V1021" fill="none" style="stroke-width:2"/>
<polygon class="e" points="1884.0,360.0 1899.0,361.5 1899.0,575.0 1884.0,566.0" fill="#3e3f52" style="stroke:none"/>
<path class="e" d="M1887 366 V566" fill="none" style="stroke-width:5"/>
<path class="e" d="M1899 361.5 V575" fill="none" style="stroke-width:2.4"/>
<polygon class="e1" points="1573.0,1016.0 1573.0,978.0 1584.0,983.0 1584.0,995.0 1597.0,1003.0 1597.0,1029.0 1587.0,1024.0" fill="#333335"/>
<polygon class="e1" points="1587.5,755.0 1905.0,567.0 1927.5,581.0 1610.0,768.0" fill="#d4d8e0"/>
<polygon class="e1" points="1587.5,755.0 1610.0,768.0 1610.0,1057.5 1587.5,1042.5" fill="#bfc3cf"/>
<polygon class="e1" points="1610.0,768.0 1927.5,581.0 1927.5,600.0 1625.0,780.0 1625.0,1057.5 1610.0,1057.5" fill="#dfe3ff"/>
<path class="e1" d="M1597 1029 L1610 1036" fill="none"/>
<polygon class="e" points="1625.0,780.0 1935.0,596.0 1977.5,620.0 1660.0,802.5" fill="#37373a"/>
<polygon class="e" points="1625.0,780.0 1660.0,802.5 1660.0,1077.5 1625.0,1057.5" fill="#333335"/>
<polygon class="e" points="1660.0,802.5 1977.5,620.0 1977.5,900.0 1660.0,1077.5" fill="#4b4c61"/>
<polygon class="e1" points="1625.0,780.0 1632.0,776.0 1664.0,796.0 1660.0,802.5" fill="#d8dbe6"/>
<g class="e1">
<ellipse cx="1950" cy="656" rx="14" ry="20" transform="rotate(28 1950 656)" fill="#e6e6ea"/>
<ellipse cx="1947" cy="658" rx="9" ry="15" transform="rotate(28 1947 658)" fill="#a8a8ae"/>
<ellipse cx="1685" cy="1037" rx="14" ry="20" transform="rotate(28 1685 1037)" fill="#e6e6ea"/>
<ellipse cx="1682" cy="1039" rx="9" ry="15" transform="rotate(28 1682 1039)" fill="#a8a8ae"/>
<ellipse cx="1685" cy="925" rx="7.5" ry="11" transform="rotate(28 1685 925)" fill="#e6e6ea"/>
</g>
<polygon class="e" points="1755.0,785.0 1930.0,683.0 2015.0,732.0 1840.0,833.0" fill="#333335"/>
<polygon class="e" points="1755.0,785.0 1840.0,833.0 1840.0,1035.0 1755.0,985.0" fill="#2f2f31"/>
<polygon class="e" points="2656.5,1648.6 2869.6,1528.3 3014.0,1446.0 3014.0,1500.0 2939.0,1570.0 2700.0,1705.0 2684.0,1708.0 2656.5,1689.0" fill="#dde1fb"/>
<polygon class="e1" points="2656.5,1648.6 2869.6,1528.3 3000.0,1495.0 2903.0,1550.0 2700.0,1666.0 2684.0,1669.0" fill="#d3d7e0"/>
<polygon class="e1" points="2684.0,1669.0 2700.0,1666.0 2700.0,1705.0 2684.0,1708.0" fill="#c3c7d2"/>
<polygon class="e1" points="2656.5,1648.6 2684.0,1669.0 2684.0,1708.0 2656.5,1689.0" fill="#cdd1dc"/>
<ellipse class="e1" cx="2709.3" cy="1640" rx="13.6" ry="8" fill="#e6e8f2"/>
<path class="e1" d="M2696.5 1642 A13 7 0 0 0 2722 1642" fill="none"/>
<polygon class="b" points="1842.0,775.0 2197.0,564.0 3014.0,1035.0 2655.0,1245.0" fill="#5050ec"/>
<polygon class="b" points="1842.0,775.0 2655.0,1245.0 2655.0,1692.0 1842.0,1225.0" fill="#7777e1"/>
<polygon class="b" points="1880.0,797.0 2232.0,590.0 2232.0,998.0 1880.0,1199.0" fill="#2b2ba3"/>
<polygon class="b" points="1842.0,775.0 2197.0,564.0 2232.0,590.0 1880.0,797.0" fill="#2d2da8"/>
<polygon class="b" points="1842.0,775.0 1880.0,797.0 1880.0,1202.0 1842.0,1181.0" fill="#23238c"/>
<polygon class="b" points="1842.0,1086.0 1880.0,1092.0 1880.0,1202.0 1842.0,1181.0" fill="#2a2a70" style="stroke:none"/>
<polygon class="b" points="1842.0,1179.0 2620.0,1627.0 2620.0,1672.0 1842.0,1225.0" fill="#8484de" style="stroke:none"/>
<polygon class="b" points="1846.0,1196.0 2620.0,1642.0 2620.0,1652.0 1846.0,1206.0" fill="#a4a4ea" style="stroke:none"/>
<path class="b" d="M1842 1179 L1880 1201 L2620 1627" fill="none" style="stroke-width:2.4"/>
<ellipse class="b" cx="1985" cy="912" rx="14" ry="19" transform="rotate(24 1985 912)" fill="#24248e"/>
<path class="b" d="M1977.3 897.8 A14 19 24 0 0 1982.2 930.0" fill="none"/>
<ellipse class="b" cx="2058" cy="958" rx="25" ry="37" transform="rotate(24 2058 958)" fill="#24248e"/>
<path class="b" d="M2044.2 930.2 A25 37 24 0 0 2053.0 993.1" fill="none"/>
<ellipse class="b" cx="2179" cy="885" rx="27" ry="38" transform="rotate(24 2179 885)" fill="#24248e"/>
<path class="b" d="M2164.2 856.5 A27 38 24 0 0 2173.6 921.1" fill="none"/>
<ellipse class="b" cx="2127" cy="915" rx="7" ry="11" transform="rotate(24 2127 915)" fill="#24248e"/>
<path class="b" d="M2123.2 906.8 A7 11 24 0 0 2125.6 925.5" fill="none"/>
<path class="b" d="M1972.0 971.1 L2006.0 991.1 A38.1 68.0 30.0 0 1 1938.0 1108.9 L1904.0 1088.9 A38.1 68.0 30.0 0 1 1972.0 971.1 Z" fill="#9494f2"/>
<ellipse class="b" cx="1976" cy="1052" rx="38" ry="68" transform="rotate(30 1976 1052)" fill="#a2a2f8"/>
<path class="b" d="M1964 958 V993 M1971.5 958 V995 M1985.5 944 V984 M1993 944 V986" fill="none"/>
<path class="b" d="M2038 1001.5 L2137.8 945.7 V1012 L2035 1067.8 Q2030 1085 2020 1100 Q1995 1128 1965 1110 Q1940 1085 1962 1040 Q1985 995 2022 995 Z" fill="#8a8af0"/>
<ellipse class="b" cx="2023.5" cy="1017" rx="5.5" ry="7" transform="rotate(25 2023.5 1017)" fill="#6a6ad8"/>
<ellipse class="b" cx="2000" cy="1054.8" rx="5.5" ry="7" transform="rotate(25 2000 1054.8)" fill="#6a6ad8"/>
<ellipse class="b" cx="1970" cy="1061" rx="5.5" ry="7" transform="rotate(25 1970 1061)" fill="#6a6ad8"/>
<ellipse class="b" cx="2008" cy="1086" rx="5.5" ry="7" transform="rotate(25 2008 1086)" fill="#6a6ad8"/>
<path class="b" d="M2183.0 972.7 L2265.0 1019.7 A28.8 50.0 30.0 0 1 2215.0 1106.3 L2133.0 1059.3 A28.8 50.0 30.0 0 1 2183.0 972.7 Z" fill="#8888ee"/>
<polygon class="b" points="2232.0,1098.0 2445.0,976.0 2445.0,1200.0 2232.0,1322.0" fill="#8585f3"/>
<polygon class="b" points="2127.7,1040.0 2338.2,915.3 2445.0,976.0 2232.3,1098.0" fill="#7070de"/>
<polygon class="b" points="2127.7,1040.0 2232.3,1098.0 2232.3,1322.0 2127.7,1262.0" fill="#6c6cd6"/>
<path class="b" d="M2127.7 1120.7 L2232.3 1180 L2445 1059" fill="none"/>
<ellipse class="b" cx="2214" cy="1047.5" rx="11" ry="6.5" fill="#7c7ce8"/>
<ellipse class="b" cx="2355" cy="966" rx="10" ry="6" fill="#7c7ce8"/>
<path class="b" d="M2343.0 1070.7 L2393.0 1099.7 A28.8 50.0 30.0 0 1 2343.0 1186.3 L2293.0 1157.3 A28.8 50.0 30.0 0 1 2343.0 1070.7 Z" fill="url(#gtel)" style="stroke-width:2.2"/>
<ellipse class="b" cx="2368.0" cy="1143.0" rx="28.8" ry="50.0" transform="rotate(30.0 2368.0 1143.0)" fill="#8888ee" style="stroke-width:2.2"/>
<path class="b" d="M2389.0 1106.6 L2419.0 1123.6 A24.2 42.0 30.0 0 1 2377.0 1196.4 L2347.0 1179.4 A24.2 42.0 30.0 0 1 2389.0 1106.6 Z" fill="#8a8af2"/>
<path class="b" d="M2423.0 1116.7 L2437.0 1124.7 A28.8 50.0 30.0 0 1 2387.0 1211.3 L2373.0 1203.3 A28.8 50.0 30.0 0 1 2423.0 1116.7 Z" fill="url(#gtel)"/>
<ellipse class="b" cx="2412.0" cy="1168.0" rx="28.8" ry="50.0" transform="rotate(30.0 2412.0 1168.0)" fill="#8e8ef4"/>
<path class="b" d="M2433.0 1131.6 L2466.0 1149.6 A24.2 42.0 30.0 0 1 2424.0 1222.4 L2391.0 1204.4 A24.2 42.0 30.0 0 1 2433.0 1131.6 Z" fill="#8a8af2"/>
<path class="b" d="M2473.5 1129.4 L2671.5 1243.4 A36.4 63.0 30.0 0 1 2608.5 1352.6 L2410.5 1238.6 A36.4 63.0 30.0 0 1 2473.5 1129.4 Z" fill="url(#gtel)"/>
<path class="b" d="M2506 1167 A36.4 63 30 0 1 2443 1276" fill="none" style="stroke-width:2.6"/>
<polygon class="b" points="2515.0,1265.0 2620.0,1325.0 2620.0,1545.0 2515.0,1487.0" fill="#6c6cd6"/>
<polygon class="b" points="2515.0,1265.0 2590.0,1222.0 2620.0,1240.0 2620.0,1325.0" fill="#7474e0"/>
<path class="b" d="M2515 1345 L2620 1402" fill="none"/>
<ellipse class="b" cx="2603" cy="1272" rx="10" ry="6" fill="#8080ea"/>
<polygon class="b" points="1917.0,838.0 1981.0,865.0 1917.0,903.0" fill="#8484ee"/>
<polygon class="b" points="1917.0,838.0 2127.0,719.0 2180.0,688.0 2223.0,686.0 2266.0,711.0 2266.0,721.0 1990.0,878.0 1917.0,845.0" fill="#7272de"/>
<polygon class="b" points="2067.0,845.0 2155.0,794.5 2155.0,837.0 2072.0,883.0" fill="#9292f6"/>
<polygon class="b" points="2017.8,784.4 2125.0,721.0 2170.0,746.5 2062.0,812.0" fill="#8686f0"/>
<polygon class="b" points="2030.0,785.0 2124.0,730.0 2155.0,747.0 2062.0,803.0" fill="#9a9af8"/>
<path class="b" d="M2040 880 V905 M2050 876 V900 M2110 852 V868 M2120 847 V863 M2130 842 V858" fill="none"/>
<path d="M2181.3 674 V720 A18 7 0 0 0 2217.3 720 V674 Z" fill="#0a0a78" stroke="#00004a" stroke-width="1.5"/>
<path d="M2172.3 652 V664 A27 15 0 0 0 2226.3 664 V652 Z" fill="#0a0a70" stroke="#00003a" stroke-width="1.2"/>
<ellipse cx="2199.3" cy="651" rx="27" ry="15" fill="#050530" stroke="#00003a" stroke-width="1.2"/>
<path d="M2184.3 634 V654 A15 7 0 0 0 2214.3 654 V634 Z" fill="#b81c0c" stroke="#8e1408" stroke-width="1.2"/>
<ellipse cx="2199.3" cy="634" rx="15" ry="7" fill="#8e1408"/>
<path d="M1969.5 797 V843 A18 7 0 0 0 2005.5 843 V797 Z" fill="#0a0a78" stroke="#00004a" stroke-width="1.5"/>
<path d="M1960.5 775 V787 A27 15 0 0 0 2014.5 787 V775 Z" fill="#0a0a70" stroke="#00003a" stroke-width="1.2"/>
<ellipse cx="1987.5" cy="774" rx="27" ry="15" fill="#050530" stroke="#00003a" stroke-width="1.2"/>
<path d="M1972.5 757 V777 A15 7 0 0 0 2002.5 777 V757 Z" fill="#ee8414" stroke="#d87408" stroke-width="1.2"/>
<ellipse cx="1987.5" cy="757" rx="15" ry="7" fill="#d87408"/>
<path class="b" d="M2075 722 L2073 768 A17 7 0 0 0 2108 768 L2106 722 Z" fill="#b4b4ff"/>
<ellipse class="b" cx="2091" cy="710" rx="17.5" ry="14" fill="#dcdcff"/>
<path class="b" d="M1880 797 L2620 1225" fill="none" style="stroke-width:1.4"/>
<path class="b" d="M1842 775 L2655 1245" fill="none" style="stroke:#00004a;stroke-width:3.2"/>
<polygon class="b" points="2620.0,1225.0 2965.0,1020.0 3014.0,1035.0 2655.0,1245.0" fill="#2c2ca8"/>
<polygon class="b" points="2620.0,1225.0 2655.0,1245.0 2655.0,1692.0 2620.0,1672.0" fill="#23238c"/>
<path class="b" d="M2685 1180 L2855 1062 Q2875 1058 2885 1075 L2712 1188 Z" fill="#7272e4"/>
<path class="b" d="M2751 1118 V1146 A9 4 0 0 0 2769 1146 V1118 Z" fill="#a8a8ff"/>
<ellipse class="b" cx="2760" cy="1107" rx="15" ry="11.5" fill="#d4d4ff"/>
<ellipse class="e1" cx="2815" cy="1128" rx="12.5" ry="7.5" fill="#33333c" style="stroke-width:2.2"/>
<ellipse class="e1" cx="2038.7" cy="677.2" rx="12" ry="7" fill="#34346e" style="stroke-width:2.2"/>
<path class="e" d="M1886 1248 V1231 A9 10 0 0 1 1904 1231 V1259 Z" fill="#c9cde0"/>
<ellipse cx="1896" cy="1231" rx="5" ry="6" fill="#eef0fb"/>
<path class="e" d="M2593 1655 V1638 A9 10 0 0 1 2611 1638 V1666 Z" fill="#c9cde0"/>
<ellipse cx="2603" cy="1638" rx="5" ry="6" fill="#eef0fb"/>
<path class="e" d="M2197 564 L3014 1035" fill="none" style="stroke-width:4"/>
<path class="b" d="M1842 775 L2197 564" fill="none" style="stroke-width:2"/>
<path class="e" d="M1842 1225 L2655 1692" fill="none" style="stroke-width:3"/>
<path class="b" d="M1842 775 V1225" fill="none" style="stroke-width:2"/>
<polygon class="e" points="2655.0,1245.0 3014.0,1035.0 3014.0,1440.0 2656.5,1648.6" fill="#4a4b60"/>
<path class="e" d="M2655 1245 L3014 1035" fill="none" style="stroke-width:3.2"/>
<path class="e" d="M2655 1245 V1692" fill="none" style="stroke-width:2.5"/>
<path class="e" d="M2696 1380.5 L2721 1366.5 Q2728 1364.5 2728 1372.5 V1414.5 L2715 1432.5 L2701 1440.5 Q2694 1442.5 2694 1432.5 V1386.5 Z" fill="#2e2e30"/>
<path class="e1" d="M2696 1424.5 L2717 1414.5" fill="none"/>
<ellipse class="e1" cx="2712" cy="1355.5" rx="4.5" ry="5.5" fill="#3a3a44"/>
<ellipse class="e1" cx="2710" cy="1448.5" rx="4.5" ry="5.5" fill="#3a3a44"/>
<path class="e" d="M2940 1241.5 L2965 1227.5 Q2972 1225.5 2972 1233.5 V1275.5 L2959 1293.5 L2945 1301.5 Q2938 1303.5 2938 1293.5 V1247.5 Z" fill="#2e2e30"/>
<path class="e1" d="M2940 1285.5 L2961 1275.5" fill="none"/>
<ellipse class="e1" cx="2956" cy="1216.5" rx="4.5" ry="5.5" fill="#3a3a44"/>
<ellipse class="e1" cx="2954" cy="1309.5" rx="4.5" ry="5.5" fill="#3a3a44"/>
<path class="e" d="M2871.5 1329.6 L3047.5 1432.6 A51.5 83.0 30.0 0 1 2964.5 1576.4 L2788.5 1473.4 A51.5 83.0 30.0 0 1 2871.5 1329.6 Z" fill="url(#ghead)"/>
<path class="e" d="M2833.8 1330 L3005 1432.5" fill="none"/>
<path class="e" d="M2769.5 1440 L2950 1535" fill="none"/>
<ellipse class="e" cx="3009.5" cy="1506.5" rx="53.3" ry="86.0" transform="rotate(30.0 3009.5 1506.5)" fill="#e9e9f7"/>
<path class="e" d="M3047.1 1461.3 L3107.6 1496.6 A36.0 58.0 30.0 0 1 3049.6 1597.0 L2989.1 1561.8 A36.0 58.0 30.0 0 1 3047.1 1461.3 Z" fill="url(#ghead2)"/>
<ellipse class="e1" cx="3078.6" cy="1546.8" rx="36.0" ry="58.0" transform="rotate(30.0 3078.6 1546.8)" fill="none"/>
<ellipse class="e" cx="3082.1" cy="1548.8" rx="36.0" ry="58.0" transform="rotate(30.0 3082.1 1548.8)" fill="url(#ghead2)"/>
<path class="e" d="M3110.1 1500.3 L3153.3 1525.5 A34.7 56.0 30.0 0 1 3097.3 1622.5 L3054.1 1597.3 A34.7 56.0 30.0 0 1 3110.1 1500.3 Z" fill="url(#ghead2)"/>
<ellipse class="e" cx="3127.0" cy="1575.0" rx="35.3" ry="57.0" transform="rotate(30.0 3127.0 1575.0)" fill="#d2d2dc"/>
<ellipse class="e" cx="3133.9" cy="1579.1" rx="34.7" ry="56.0" transform="rotate(30.0 3133.9 1579.1)" fill="#e8e8f6"/>
<ellipse class="e1" cx="3136.5" cy="1580.6" rx="27.3" ry="44.0" transform="rotate(30.0 3136.5 1580.6)" fill="#ececfa"/>
<path class="e" d="M3177 1582 L3229 1616.5 A8.5 14 30 0 1 3215 1640.5 L3159.5 1614 Z" fill="url(#ghead2)"/>
<path class="e" d="M3143.0 1563.9 L3179.0 1578.9 A13.2 22.0 30.0 0 1 3157.0 1617.1 L3121.0 1602.1 A13.2 22.0 30.0 0 1 3143.0 1563.9 Z" fill="url(#ghead2)"/>
<path class="e1" d="M3177.2 1582.1 A11 18.5 30 0 1 3158.8 1613.9" fill="none"/>
<ellipse class="e" cx="3222" cy="1628.5" rx="8.5" ry="14" transform="rotate(30 3222 1628.5)" fill="#f2f2fa"/>
<line class="ld" x1="1804.1" y1="180.6" x2="1717.5" y2="250.0"/>
<polygon points="1717.5,250.0 1734.1,230.8 1739.9,238.0" fill="#000"/>
<circle cx="1831" cy="159" r="34.5" fill="#fff" stroke="#000" stroke-width="1.4"/>
<text x="1831.80" y="171.00" font-size="32.00" text-anchor="middle" textLength="35.46" lengthAdjust="spacingAndGlyphs">17</text>
<line class="ld" x1="1975.9" y1="264.1" x2="1929.0" y2="578.0"/>
<polygon points="1929.0,578.0 1928.1,552.6 1937.2,554.0" fill="#000"/>
<circle cx="1981" cy="230" r="34.5" fill="#fff" stroke="#000" stroke-width="1.4"/>
<text x="1981.80" y="242.00" font-size="32.00" text-anchor="middle" textLength="35.46" lengthAdjust="spacingAndGlyphs">16</text>
<line class="ld" x1="2087.5" y1="332.0" x2="1972.5" y2="616.0"/>
<polygon points="1972.5,616.0 1977.6,591.1 1986.1,594.6" fill="#000"/>
<circle cx="2100.5" cy="300" r="34.5" fill="#fff" stroke="#000" stroke-width="1.4"/>
<text x="2101.30" y="312.00" font-size="32.00" text-anchor="middle" textLength="35.46" lengthAdjust="spacingAndGlyphs">15</text>
<line class="ld" x1="2199.8" y1="381.9" x2="1946.0" y2="696.5"/>
<circle cx="1946.0" cy="696.5" r="2.6" fill="#000"/>
<circle cx="2221.5" cy="355" r="34.5" fill="#fff" stroke="#000" stroke-width="1.4"/>
<text x="2222.30" y="367.00" font-size="32.00" text-anchor="middle" textLength="35.46" lengthAdjust="spacingAndGlyphs">14</text>
<line class="ld" x1="2293.0" y1="440.8" x2="2047.0" y2="674.5"/>
<polygon points="2047.0,674.5 2062.0,653.9 2068.3,660.6" fill="#000"/>
<circle cx="2318" cy="417" r="34.5" fill="#fff" stroke="#000" stroke-width="1.4"/>
<text x="2318.80" y="429.00" font-size="32.00" text-anchor="middle" textLength="17.73" lengthAdjust="spacingAndGlyphs">2</text>
<line class="ld" x1="2658.8" y1="644.6" x2="2539.0" y2="761.0"/>
<polygon points="2539.0,761.0 2553.7,740.3 2560.1,746.9" fill="#000"/>
<circle cx="2683.5" cy="620.5" r="34.5" fill="#fff" stroke="#000" stroke-width="1.4"/>
<text x="2684.30" y="632.50" font-size="32.00" text-anchor="middle" textLength="17.73" lengthAdjust="spacingAndGlyphs">7</text>
<line class="ld" x1="3123.3" y1="968.1" x2="2977.5" y2="1110.5"/>
<circle cx="2977.5" cy="1110.5" r="2.6" fill="#000"/>
<circle cx="3148" cy="944" r="34.5" fill="#fff" stroke="#000" stroke-width="1.4"/>
<text x="3148.80" y="956.00" font-size="32.00" text-anchor="middle" textLength="17.73" lengthAdjust="spacingAndGlyphs">3</text>
<line class="ld" x1="3097.3" y1="1333.2" x2="3032.0" y2="1417.0"/>
<polygon points="3032.0,1417.0 3043.7,1394.5 3051.0,1400.1" fill="#000"/>
<circle cx="3118.5" cy="1306" r="34.5" fill="#fff" stroke="#000" stroke-width="1.4"/>
<text x="3119.30" y="1318.00" font-size="32.00" text-anchor="middle" textLength="17.73" lengthAdjust="spacingAndGlyphs">4</text>
<line class="ld" x1="1707.5" y1="1187.3" x2="1813.5" y2="1182.0"/>
<polygon points="1813.5,1182.0 1788.8,1187.8 1788.3,1178.6" fill="#000"/>
<circle cx="1673" cy="1189" r="34.5" fill="#fff" stroke="#000" stroke-width="1.4"/>
<text x="1673.80" y="1201.00" font-size="32.00" text-anchor="middle" textLength="17.73" lengthAdjust="spacingAndGlyphs">1</text>
</g>
</svg>
</body></html>
